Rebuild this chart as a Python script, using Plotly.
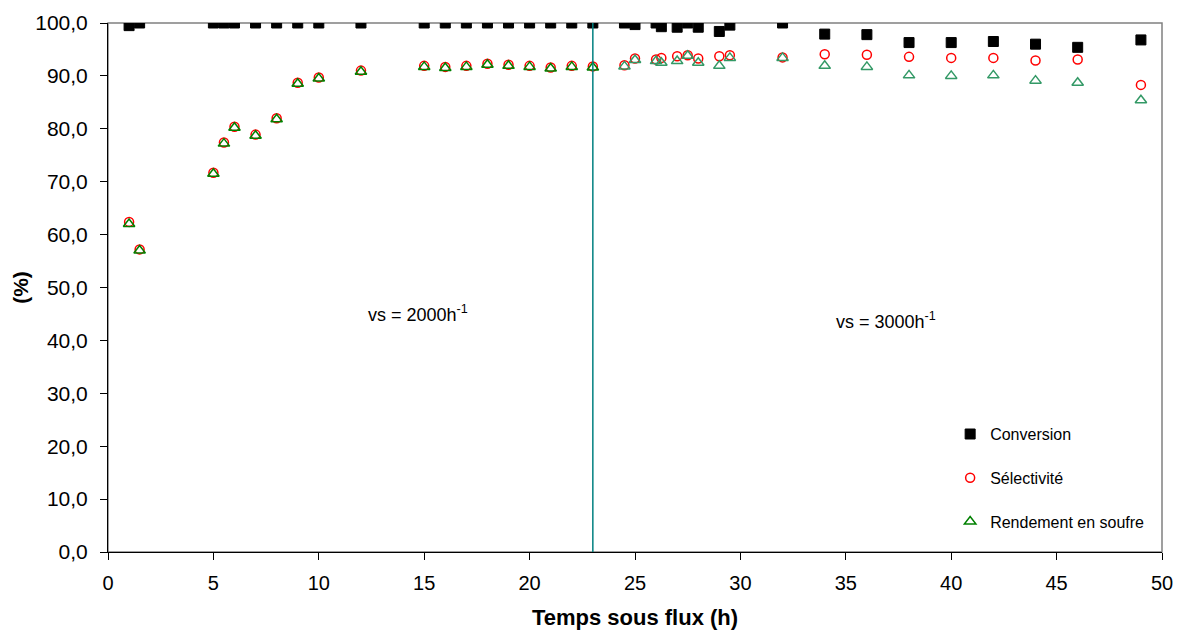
import plotly.graph_objects as go

# Time on stream (h)
time_h = [1, 1.5, 5, 5.5, 6, 7, 8, 9, 10, 12,
          15, 16, 17, 18, 19, 20, 21, 22, 23,
          24.5, 25, 26, 26.25, 27, 27.5, 28, 29, 29.5, 32,
          34, 36, 38, 40, 42, 44, 46, 49]

# Conversion (%)
conversion = [99.5, 100, 100, 100, 100, 100, 100, 100, 100, 100,
              100, 100, 100, 100, 100, 100, 100, 100, 100,
              100, 99.7, 100, 99.3, 99.2, 100, 99.2, 98.4, 99.6, 100,
              97.9, 97.8, 96.3, 96.3, 96.5, 96.0, 95.4, 96.8]

# Selectivity (%)
selectivite = [62.4, 57.2, 71.7, 77.4, 80.4, 78.9, 82.0, 88.7, 89.7, 91.0,
               91.9, 91.7, 91.9, 92.3, 92.1, 91.9, 91.6, 91.9, 91.8,
               92.0, 93.3, 93.1, 93.4, 93.7, 93.9, 93.3, 93.7, 93.9, 93.5,
               94.1, 94.0, 93.6, 93.4, 93.4, 92.9, 93.1, 88.3]

# Sulfur yield (%)
rendement = [62.0, 57.0, 71.5, 77.2, 80.2, 78.7, 81.8, 88.5, 89.5, 90.8,
             91.7, 91.5, 91.7, 92.1, 91.9, 91.7, 91.4, 91.7, 91.6,
             91.8, 93.0, 92.8, 92.5, 92.8, 93.8, 92.5, 91.9, 93.4, 93.4,
             91.9, 91.7, 90.1, 90.0, 90.1, 89.1, 88.7, 85.4]

# Space velocity switch (h) and the two regime labels
vs_switch = 23
vs_labels = ["vs = 2000h<sup>-1</sup>", "vs = 3000h<sup>-1</sup>"]
vs_label_pos = [(14.7, 45.0), (36.9, 43.7)]

FONT = "Liberation Sans, Arial, sans-serif"

# yield markers: darker green during the first regime
yield_colors = ["#008000" if t <= vs_switch else "#339966" for t in time_h]

fig = go.Figure()
fig.add_trace(go.Scatter(
    x=time_h, y=conversion, mode="markers", name="Conversion",
    legendgroup="a",
    marker=dict(symbol="square", size=10, color="black",
                line=dict(color="black", width=1)),
))
fig.add_trace(go.Scatter(
    x=time_h, y=selectivite, mode="markers", name="Sélectivité",
    legendgroup="b",
    marker=dict(symbol="circle-open", size=9, color="#ff0000",
                line=dict(color="#ff0000", width=1.5)),
))
fig.add_trace(go.Scatter(
    x=time_h, y=rendement, mode="markers", name="Rendement en soufre",
    legendgroup="c",
    marker=dict(symbol="triangle-up-open", size=10, color=yield_colors,
                line=dict(color=yield_colors, width=1.5)),
))

# switch between the two space velocities
fig.add_shape(type="line", xref="x", yref="paper",
              x0=vs_switch, x1=vs_switch, y0=0, y1=1,
              line=dict(color="#008080", width=1.5), layer="above")

# plot-area frame
fig.add_shape(type="rect", xref="paper", yref="paper", x0=0, x1=1, y0=0, y1=1,
              line=dict(color="#808080", width=1.5), layer="below")

for txt, (lx, ly) in zip(vs_labels, vs_label_pos):
    fig.add_annotation(x=lx, y=ly, xref="x", yref="y", text=txt,
                       showarrow=False, font=dict(family=FONT, size=18, color="black"))

axis_common = dict(showgrid=False, zeroline=False, tickcolor="black", tickwidth=1,
                   automargin=False)

fig.update_layout(
    width=1177, height=630,
    margin=dict(l=108, r=15, t=23, b=78),
    paper_bgcolor="white", plot_bgcolor="white",
    separators=", ",
    font=dict(family=FONT, color="black"),
    showlegend=True,
    legend=dict(x=0.799, y=0.255, xanchor="left", yanchor="top",
                font=dict(family=FONT, size=16, color="black"),
                bgcolor="rgba(0,0,0,0)", itemwidth=30,
                tracegroupgap=20, traceorder="grouped"),
    xaxis=dict(range=[0, 50], tick0=0, dtick=5, ticks="outside", ticklen=7,
               tickfont=dict(size=20), ticklabelstandoff=6,
               linecolor="black", linewidth=1,
               title=dict(text="<b>Temps sous flux (h)</b>",
                          font=dict(size=22), standoff=18),
               **axis_common),
    yaxis=dict(range=[0, 100], tick0=0, dtick=10, ticks="outside", ticklen=7,
               tickformat=".1f", tickfont=dict(size=21), ticklabelstandoff=8,
               linecolor="black", linewidth=1,
               title=dict(text="<b>(%)</b>", font=dict(size=21), standoff=0),
               **axis_common),
    # inner halves of the crossing tick marks
    xaxis2=dict(range=[0, 50], tick0=0, dtick=5, ticks="inside", ticklen=6,
                overlaying="x", anchor="y", side="bottom", showticklabels=False,
                showline=False, **axis_common),
    yaxis2=dict(range=[0, 100], tick0=0, dtick=10, ticks="inside", ticklen=7,
                overlaying="y", anchor="x", side="left", showticklabels=False,
                showline=False, **axis_common),
)

fig.write_html("out.html")
